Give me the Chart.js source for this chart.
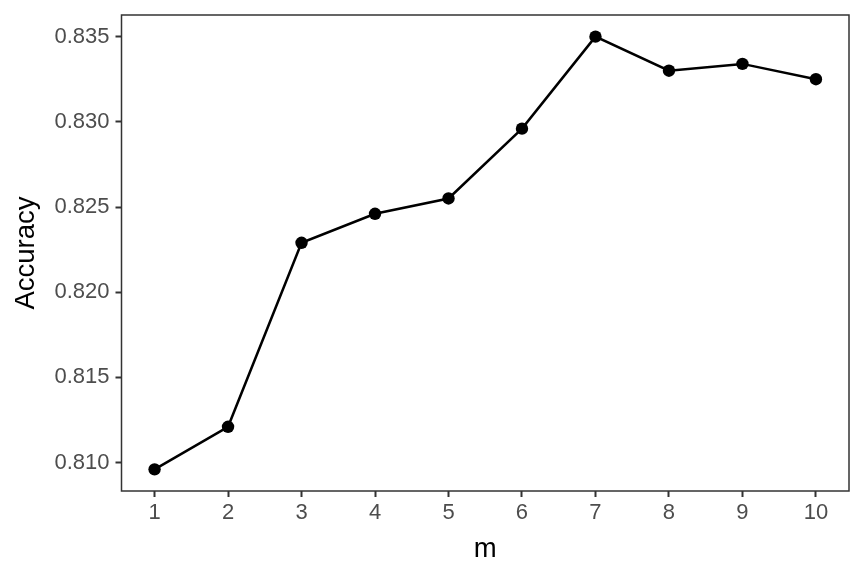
<!DOCTYPE html>
<html>
<head>
<meta charset="utf-8">
<script src="https://cdn.jsdelivr.net/npm/chart.js@4"></script>
<style>
  body { margin: 0; background: #fff; }
  canvas { display: block; }
</style>
</head>
<body>
<canvas id="chart" width="864" height="576"></canvas>
<script>
// values
const mValues = [1, 2, 3, 4, 5, 6, 7, 8, 9, 10];
const accuracy = [0.8096, 0.8121, 0.8229, 0.8246, 0.8255, 0.8296, 0.8350, 0.8330, 0.8334, 0.8325];
const xTicks = [1, 2, 3, 4, 5, 6, 7, 8, 9, 10];
const yTicks = [0.810, 0.815, 0.820, 0.825, 0.830, 0.835];

// ggplot-style 5% expansion around the data
const xPad = (Math.max(...mValues) - Math.min(...mValues)) * 0.05;
const yPad = (Math.max(...accuracy) - Math.min(...accuracy)) * 0.05;

const fontFamily = '"Liberation Sans", Arial, Helvetica, sans-serif';

// panel border all round, like theme_bw
const panelBorder = {
    id: 'panelBorder',
    afterDatasetsDraw(chart) {
        const { ctx, chartArea } = chart;
        ctx.save();
        ctx.strokeStyle = '#333333';
        ctx.lineWidth = 1.5;
        ctx.strokeRect(chartArea.left, chartArea.top,
            chartArea.right - chartArea.left, chartArea.bottom - chartArea.top);
        ctx.restore();
    }
};

const ctx = document.getElementById('chart').getContext('2d');
new Chart(ctx, {
    type: 'line',
    data: {
        datasets: [{
            data: mValues.map((m, i) => ({ x: m, y: accuracy[i] })),
            borderColor: '#000000',
            backgroundColor: '#000000',
            borderWidth: 2.5,
            pointRadius: 6.2,
            pointBorderWidth: 0,
            pointBackgroundColor: '#000000',
            tension: 0,
            clip: false
        }]
    },
    options: {
        responsive: false,
        animation: false,
        devicePixelRatio: 1,
        layout: { padding: { top: 15, right: 15, left: 0, bottom: 0 } },
        plugins: {
            legend: { display: false },
            tooltip: { enabled: false }
        },
        scales: {
            x: {
                type: 'linear',
                min: Math.min(...mValues) - xPad,
                max: Math.max(...mValues) + xPad,
                afterBuildTicks: scale => { scale.ticks = xTicks.map(v => ({ value: v })); },
                afterFit: scale => {
                    scale.height = 85;
                    scale.paddingLeft = 0;
                    scale.paddingRight = 0;
                },
                grid: {
                    drawOnChartArea: false,
                    drawTicks: true,
                    tickLength: 6,
                    tickWidth: 2,
                    tickColor: '#333333'
                },
                border: { display: false },
                ticks: {
                    color: '#4D4D4D',
                    font: { family: fontFamily, size: 22 },
                    padding: 3,
                    maxRotation: 0,
                    autoSkip: false,
                    callback: v => String(v)
                },
                title: {
                    display: true,
                    text: 'm',
                    color: '#000000',
                    font: { family: fontFamily, size: 27.5 },
                    padding: { top: 0, bottom: 10 }
                }
            },
            y: {
                type: 'linear',
                min: Math.min(...accuracy) - yPad,
                max: Math.max(...accuracy) + yPad,
                afterBuildTicks: scale => { scale.ticks = yTicks.map(v => ({ value: v })); },
                afterFit: scale => {
                    scale.width = 121.5;
                    scale.paddingTop = 0;
                    scale.paddingBottom = 0;
                },
                grid: {
                    drawOnChartArea: false,
                    drawTicks: true,
                    tickLength: 6,
                    tickWidth: 2,
                    tickColor: '#333333'
                },
                border: { display: false },
                ticks: {
                    color: '#4D4D4D',
                    font: { family: fontFamily, size: 22 },
                    padding: 6,
                    autoSkip: false,
                    callback: v => v.toFixed(3)
                },
                title: {
                    display: true,
                    text: 'Accuracy',
                    color: '#000000',
                    font: { family: fontFamily, size: 27.5 },
                    padding: { top: 10, bottom: 0 }
                }
            }
        }
    },
    plugins: [panelBorder]
});
</script>
</body>
</html>
